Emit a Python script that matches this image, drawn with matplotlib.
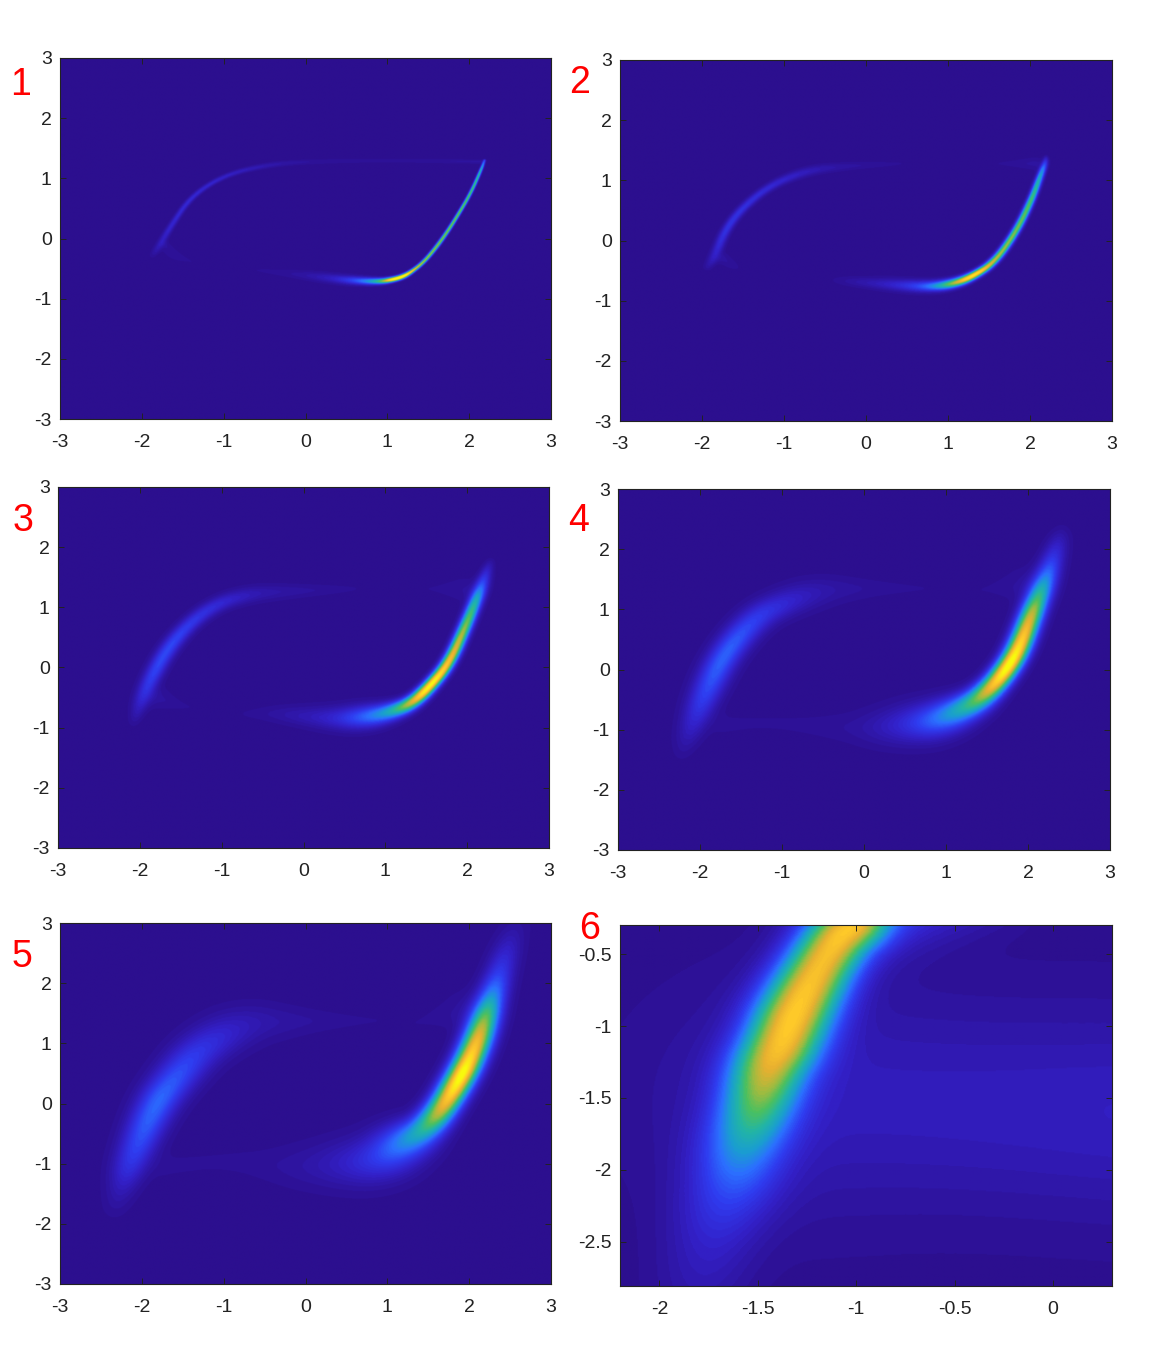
import matplotlib

matplotlib.use("Agg")
import matplotlib.pyplot as plt
import numpy as np
from matplotlib.colors import BoundaryNorm, LinearSegmentedColormap

plt.rcParams["font.family"] = ["Liberation Sans", "DejaVu Sans"]
plt.rcParams["axes.unicode_minus"] = False

W, H = 1150, 1350

# density ridges, rows are (x, y, level, spread)
P1_MAIN = [(2.19, 1.30, .20, .012), (2.15, 1.15, .50, .014), (2.02, .75, .60, .015), (1.86, .38, .64, .016),
           (1.72, .08, .66, .017), (1.58, -.18, .68, .018), (1.44, -.40, .70, .018), (1.30, -.55, .85, .02),
           (1.20, -.63, 1.15, .024), (1.08, -.68, 1.15, .026), (.90, -.72, .50, .034), (.48, -.69, .12, .05),
           (0, -.61, .03, .055), (-.58, -.53, .011, .03)]
P1_UPPER = [(2.15, 1.28, .03, .025), (1.0, 1.30, .017, .025), (0, 1.28, .022, .03), (-.5, 1.22, .055, .03),
            (-1.0, 1.05, .10, .025), (-1.4, .70, .13, .025), (-1.65, .20, .12, .027), (-1.80, -.15, .07, .035),
            (-1.87, -.28, .02, .03)]
P1_FLARE = [(-1.72, -.10, .025, .04), (-1.62, -.28, .025, .06), (-1.38, -.39, .009, .02)]

P2_MAIN = [(2.20, 1.40, .03, .02), (2.19, 1.30, .18, .028), (2.14, 1.12, .42, .03), (2.02, .67, .60, .032),
           (1.83, .14, .66, .034), (1.57, -.36, .72, .036), (1.30, -.60, 1.05, .04), (1.07, -.72, .72, .05),
           (.79, -.77, .29, .06), (.37, -.74, .10, .07), (-.37, -.66, .012, .05)]
P2_UPPER = [(.42, 1.28, .011, .03), (-.37, 1.23, .035, .05), (-.78, 1.14, .085, .05), (-1.19, .90, .13, .04),
            (-1.52, .53, .16, .04), (-1.72, .17, .17, .04), (-1.85, -.27, .10, .045), (-1.93, -.44, .03, .04)]
P2_FLARE = [(-1.75, -.30, .03, .06), (-1.62, -.42, .02, .05), (-1.56, -.46, .009, .02)]
P2_WING = [(1.63, 1.28, .011, .03), (2.06, 1.28, .03, .07)]

P3_MAIN = [(2.29, 1.79, .012, .04), (2.19, 1.40, .22, .06), (2.11, 1.12, .48, .058), (1.98, .68, .68, .056),
           (1.78, .07, .87, .056), (1.53, -.34, 1.05, .06), (1.32, -.60, .78, .07), (1.07, -.74, .45, .095),
           (.74, -.83, .27, .13), (.37, -.85, .10, .13), (-.33, -.77, .03, .10), (-.70, -.77, .012, .06)]
P3_UPPER = [(.62, 1.31, .011, .05), (-.33, 1.26, .04, .09), (-.66, 1.22, .07, .09), (-1.03, 1.08, .13, .08),
            (-1.36, .78, .18, .075), (-1.65, .34, .23, .075), (-1.86, -.16, .21, .075), (-2.0, -.60, .10, .07),
            (-2.08, -.93, .014, .05)]
P3_FLARE = [(-1.80, -.50, .03, .12), (-1.55, -.62, .02, .06), (-1.38, -.66, .009, .03)]
P3_WING = [(1.55, 1.31, .011, .04), (1.95, 1.30, .025, .13)]

P4_MAIN = [(2.42, 2.35, .012, .07), (2.39, 2.20, .05, .09), (2.26, 1.65, .25, .10), (2.13, 1.20, .55, .10),
           (2.05, .93, .76, .10), (1.90, .38, .95, .10), (1.76, .04, 1.05, .10), (1.55, -.32, .85, .11),
           (1.31, -.59, .55, .14), (.90, -.84, .30, .20), (.55, -.92, .13, .22), (.07, -.98, .035, .20),
           (-.50, -.95, .018, .14), (-1.2, -.88, .014, .08), (-1.7, -.92, .014, .14)]
P4_UPPER = [(-2.23, -1.43, .012, .08), (-2.15, -1.12, .06, .11), (-1.94, -.40, .22, .13), (-1.70, .27, .29, .13),
            (-1.33, .86, .20, .14), (-1.0, 1.10, .13, .15), (-.58, 1.30, .055, .17), (-.10, 1.35, .025, .13),
            (.71, 1.35, .011, .05)]
P4_WING = [(1.45, 1.33, .011, .04), (2.0, 1.40, .03, .20)]

P5_MAIN = [(2.60, 3.05, .015, .12), (2.49, 2.67, .07, .12), (2.32, 1.94, .25, .12), (2.15, 1.22, .78, .125),
           (2.03, .80, .93, .125), (1.90, .44, 1.05, .125), (1.66, -.11, .80, .13), (1.45, -.44, .50, .16),
           (1.20, -.66, .35, .22), (.88, -.94, .17, .27), (.40, -1.02, .07, .27), (-.20, -1.05, .025, .24),
           (-1.0, -.95, .014, .12), (-1.7, -1.05, .014, .15)]
P5_UPPER = [(-2.34, -1.80, .014, .11), (-2.25, -1.40, .07, .13), (-2.13, -.94, .19, .15), (-1.85, -.05, .30, .165),
            (-1.60, .42, .25, .18), (-1.27, .94, .17, .20), (-.77, 1.33, .07, .23), (-.20, 1.37, .03, .18),
            (.85, 1.38, .011, .05)]
P5_WING = [(1.37, 1.35, .011, .05), (2.0, 1.55, .03, .22)]

P6_MAIN = [(-.98, -.20, .62, .12), (-1.02, -.30, .72, .12), (-1.12, -.42, .80, .125), (-1.30, -.86, .87, .14),
           (-1.38, -1.12, .83, .14), (-1.45, -1.30, .73, .14), (-1.51, -1.58, .54, .14), (-1.58, -1.86, .34, .15),
           (-1.63, -2.11, .21, .16), (-1.71, -2.39, .12, .16), (-1.76, -2.62, .08, .16), (-1.82, -2.95, .04, .16)]
P6_BAND = [(-1.20, -1.50, .08, .55), (-.50, -1.55, .08, .50), (.40, -1.60, .09, .50)]
P6_SHOULDER = [(-.95, -.20, .20, .20), (-.30, -.15, .05, .12)]

PANEL_LABELS = ["1", "2", "3", "4", "5", "6"]
FULL_TICKS = [-3, -2, -1, 0, 1, 2, 3]
FULL_TICK_LABELS = ["-3", "-2", "-1", "0", "1", "2", "3"]
P6_XTICKS = [-2, -1.5, -1, -.5, 0]
P6_XTICK_LABELS = ["-2", "-1.5", "-1", "-0.5", "0"]
P6_YTICKS = [-2.5, -2, -1.5, -1, -.5]
P6_YTICK_LABELS = ["-2.5", "-2", "-1.5", "-1", "-0.5"]

PARULA = ["#2c0f8f", "#3320c8", "#2f3cf0", "#2b70ff", "#1a9ed0", "#22b5a5",
          "#4bc060", "#a0bb40", "#e8b030", "#ffc92a", "#f8fa0d"]


def smooth(rows, passes=3):
    # corner cutting so the ridge does not show its control points
    pts = np.array(rows, dtype=float)
    for _ in range(passes):
        a, b = pts[:-1], pts[1:]
        mid = np.empty((2 * len(a), 4))
        mid[0::2] = .75 * a + .25 * b
        mid[1::2] = .25 * a + .75 * b
        pts = np.vstack([pts[:1], mid, pts[-1:]])
    return pts


def ridge_field(ridges, xs, ys):
    z = np.zeros((len(ys), len(xs)))
    for rows in ridges:
        pts = smooth(rows)
        layer = np.zeros_like(z)
        for p, q in zip(pts[:-1], pts[1:]):
            r = 5 * max(p[3], q[3])
            i0 = np.searchsorted(xs, min(p[0], q[0]) - r)
            i1 = np.searchsorted(xs, max(p[0], q[0]) + r)
            j0 = np.searchsorted(ys, min(p[1], q[1]) - r)
            j1 = np.searchsorted(ys, max(p[1], q[1]) + r)
            if i1 <= i0 or j1 <= j0:
                continue
            gx, gy = np.meshgrid(xs[i0:i1], ys[j0:j1])
            dx, dy = q[0] - p[0], q[1] - p[1]
            t = np.clip(((gx - p[0]) * dx + (gy - p[1]) * dy) / (dx * dx + dy * dy), 0, 1)
            d2 = (gx - p[0] - t * dx) ** 2 + (gy - p[1] - t * dy) ** 2
            amp = p[2] + t * (q[2] - p[2])
            w = p[3] + t * (q[3] - p[3])
            layer[j0:j1, i0:i1] = np.maximum(layer[j0:j1, i0:i1], amp * np.exp(-d2 / (2 * w * w)))
        z += layer
    return z


cmap = LinearSegmentedColormap.from_list("parula_ish", PARULA, N=256)
norm = BoundaryNorm(np.concatenate([[0], np.linspace(.01, 1, 64)]), 256, clip=True)

# axes boxes in pixels: left, top, right, bottom
boxes = [(60, 58, 551, 419), (620, 60, 1112, 421), (58, 487, 549, 848),
         (618, 489, 1110, 850), (60, 923, 551, 1284), (620, 925, 1112, 1286)]
label_xy = [(21, 85), (580, 83), (23, 521), (579, 521), (22, 957), (590, 929)]
panel_ridges = [[P1_MAIN, P1_UPPER, P1_FLARE], [P2_MAIN, P2_UPPER, P2_FLARE, P2_WING],
                [P3_MAIN, P3_UPPER, P3_FLARE, P3_WING], [P4_MAIN, P4_UPPER, P4_WING],
                [P5_MAIN, P5_UPPER, P5_WING], [P6_MAIN, P6_BAND, P6_SHOULDER]]

fig = plt.figure(figsize=(W / 100, H / 100), dpi=100)
for k, (box, ridges) in enumerate(zip(boxes, panel_ridges)):
    ax = fig.add_axes([box[0] / W, 1 - box[3] / H, (box[2] - box[0]) / W, (box[3] - box[1]) / H])
    if k == 5:
        xlim, ylim = (-2.2, .3), (-2.81, -.295)
        xt, xl, yt, yl = P6_XTICKS, P6_XTICK_LABELS, P6_YTICKS, P6_YTICK_LABELS
        xs, ys = np.linspace(*xlim, 500), np.linspace(*ylim, 370)
    else:
        xlim, ylim = (-3, 3), (-3, 3)
        xt, xl, yt, yl = FULL_TICKS, FULL_TICK_LABELS, FULL_TICKS, FULL_TICK_LABELS
        xs, ys = np.linspace(-3, 3, 1000), np.linspace(-3, 3, 740)
    z = ridge_field(ridges, xs, ys)
    ax.imshow(z, extent=[*xlim, *ylim], origin="lower", aspect="auto", cmap=cmap, norm=norm,
              interpolation="bilinear")
    ax.set_xlim(xlim)
    ax.set_ylim(ylim)
    ax.set_xticks(xt, xl)
    ax.set_yticks(yt, yl)
    ax.tick_params(direction="in", top=True, right=True, length=4, width=.7, labelsize=14,
                   color="#222222", labelcolor="#222222")
    ax.tick_params(axis="x", pad=10.5)
    ax.tick_params(axis="y", pad=6)
    for s in ax.spines.values():
        s.set_linewidth(.8)
        s.set_color("#222222")
    fig.text(label_xy[k][0] / W, 1 - label_xy[k][1] / H, PANEL_LABELS[k], color="red", fontsize=27,
             ha="center", va="center")

fig.savefig("out.png", dpi=100)
